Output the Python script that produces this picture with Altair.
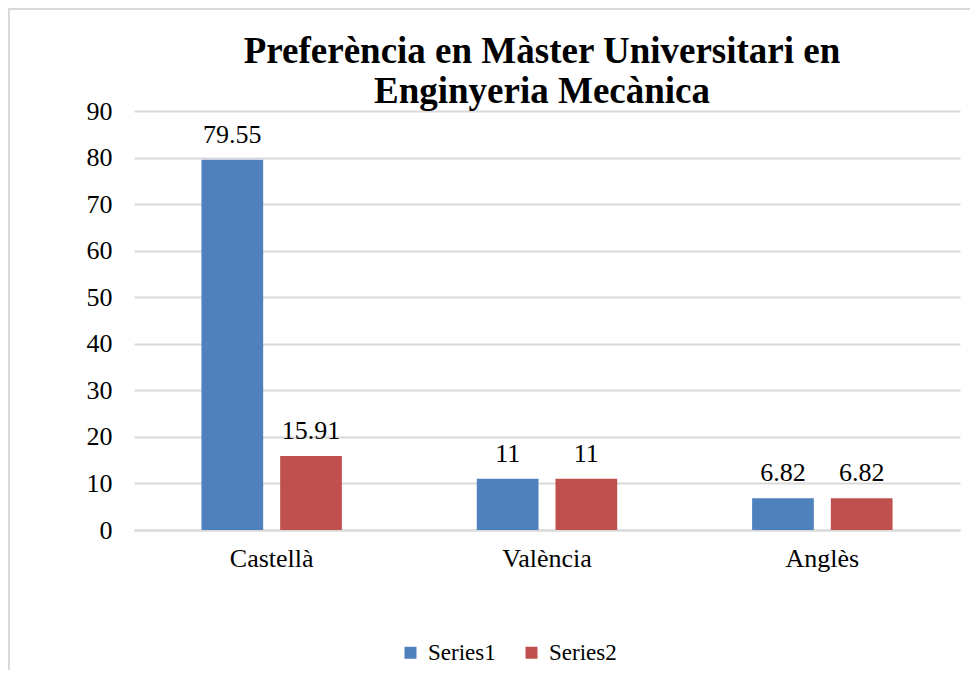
import altair as alt
import pandas as pd

categories = ["Castellà", "València", "Anglès"]
series_names = ["Series1", "Series2"]
series1 = [79.55, 11, 6.82]
series2 = [15.91, 11, 6.82]
colors = ["#4F81BD", "#C0504D"]
title_lines = ["Preferència en Màster Universitari en", "Enginyeria Mecànica"]

rows = []
for i, c in enumerate(categories):
    for s, vals in zip(series_names, [series1, series2]):
        rows.append({"cat": c, "series": s, "value": vals[i], "label": f"{vals[i]:g}"})
df = pd.DataFrame(rows)

FONT = "Liberation Serif, Times New Roman, DejaVu Serif, serif"
GRID = "#D9D9D9"

x_enc = alt.X("cat:N", sort=categories, title=None,
              scale=alt.Scale(paddingInner=0.49, paddingOuter=0.245),
              axis=alt.Axis(labelAngle=0, ticks=False, domainColor=GRID, domainWidth=2,
                            labelFont=FONT, labelFontSize=26, labelColor="#000000",
                            labelPadding=15, labelBaseline="top"))
xoff = alt.XOffset("series:N", sort=series_names,
                   scale=alt.Scale(paddingInner=0.216, paddingOuter=0))
y_enc = alt.Y("value:Q", title=None,
              scale=alt.Scale(domain=[0, 90], nice=False),
              axis=alt.Axis(values=list(range(0, 91, 10)), ticks=False, domain=False,
                            gridColor=GRID, gridWidth=2, labelFont=FONT, labelFontSize=26,
                            labelColor="#000000", labelPadding=22))

base = alt.Chart(df)

bars = base.mark_bar().encode(
    x=x_enc, xOffset=xoff, y=y_enc,
    color=alt.Color("series:N", sort=series_names,
                    scale=alt.Scale(domain=series_names, range=colors),
                    legend=alt.Legend(title=None, orient="none", legendX=265, legendY=530,
                                      direction="horizontal", symbolType="square",
                                      symbolSize=144, symbolStrokeWidth=0,
                                      labelFont=FONT, labelFontSize=23, labelColor="#000000",
                                      labelOffset=6, columnPadding=24, padding=0)),
)

labels = base.mark_text(font=FONT, fontSize=26, color="#000000", baseline="alphabetic",
                        dy=-17).encode(
    x=alt.X("cat:N", sort=categories), xOffset=alt.XOffset("series:N", sort=series_names),
    y="value:Q", text="label:N")

border_data = alt.Data(values=[{"k": 1}])
top_border = alt.Chart(border_data).mark_rule(color=GRID, strokeWidth=2).encode(
    x=alt.value(-126), x2=alt.value(840), y=alt.value(-102))
left_border = alt.Chart(border_data).mark_rule(color=GRID, strokeWidth=2).encode(
    x=alt.value(-125), y=alt.value(-103), y2=alt.value(560))

chart = alt.layer(top_border, left_border, bars, labels).properties(
    width=826, height=419,
    autosize=alt.AutoSizeParams(type="none"),
    padding={"left": 126, "top": 103, "right": 10, "bottom": 140},
    title=alt.TitleParams(title_lines, font=FONT, fontSize=37, fontWeight="bold",
                          color="#000000", anchor="middle", lineHeight=40,
                          baseline="bottom", offset=2, dx=-5, dy=143),
).configure_view(stroke=None)

chart.save("out.html", embed_options={"renderer": "svg", "actions": False})
